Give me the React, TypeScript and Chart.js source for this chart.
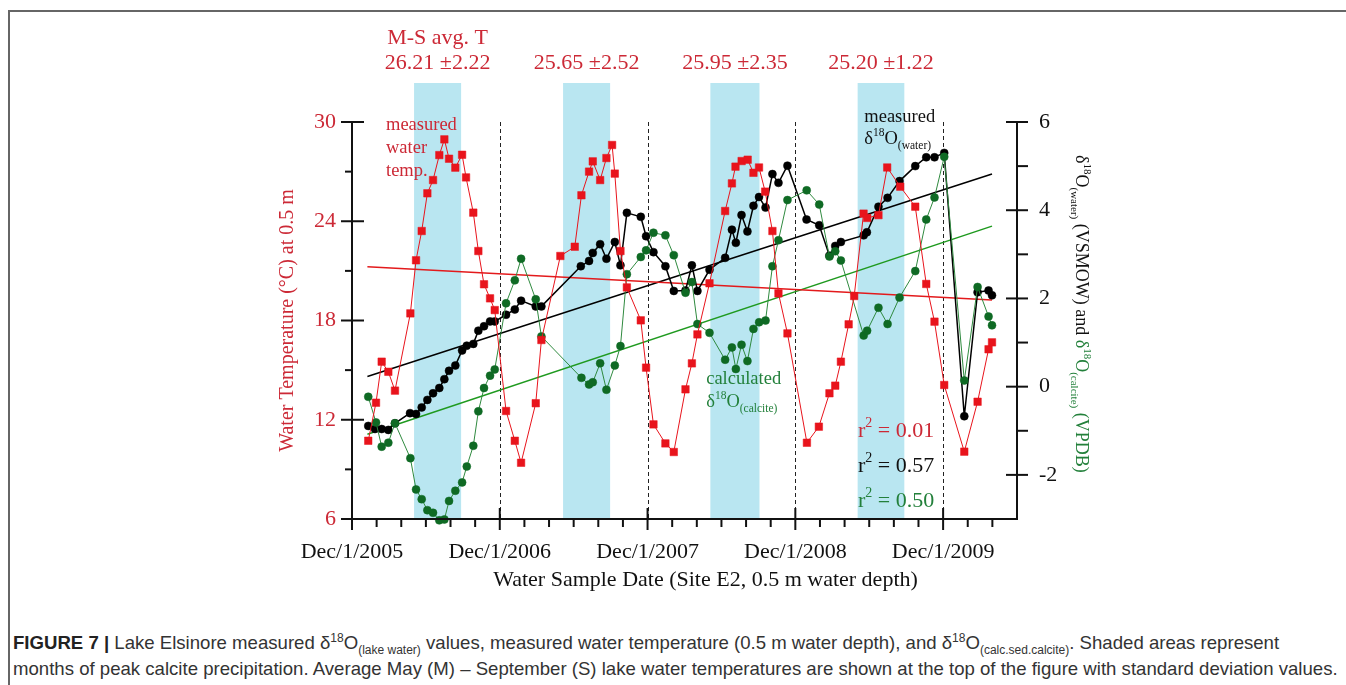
import React, { useEffect, useRef } from "react";
import { Chart, registerables } from "chart.js";

Chart.register(...registerables);

const SERIF = '"Liberation Serif", "Times New Roman", serif';
const RED_TEXT = "#cc2936";
const GREEN_TEXT = "#23803b";
const INK = "#111111";
const SHADE = "#b9e6f1";

// x values are months elapsed since Dec/1/2005
const tempMonths = [
  1.32, 1.95, 2.41, 2.95, 3.49, 4.74, 5.2, 5.66, 6.12, 6.58, 7.09, 7.5, 7.88, 8.39, 8.94, 9.26,
  9.85, 10.26, 10.72, 11.21, 11.59, 12.51, 13.22, 13.73, 14.92, 15.38, 16.92, 18.09, 18.63,
  19.25, 19.55, 20.15, 20.66, 21.12, 21.34, 21.8, 22.32, 23.45, 23.88, 24.48, 25.45, 26.13,
  27.08, 27.6, 28.05, 29.03, 30.3, 30.85, 31.14, 31.64, 32.13, 32.6, 33.05, 33.55, 34.14,
  34.63, 35.36, 36.94, 37.91, 38.77, 39.24, 39.7, 40.33, 40.78, 41.54, 41.84, 42.75, 43.46,
  44.52, 45.74, 46.63, 47.3, 48.09, 49.72, 50.8, 51.69, 51.97,
];
const tempValues = [
  10.73, 13.03, 15.51, 14.9, 13.76, 18.43, 21.64, 23.41, 25.69, 26.49, 28.0, 28.95, 27.78,
  27.24, 28.02, 26.65, 24.52, 22.2, 20.19, 19.34, 18.63, 12.53, 10.73, 9.4, 13.0, 16.82, 21.9,
  22.46, 25.57, 27.0, 27.62, 26.49, 27.82, 28.61, 26.88, 22.2, 20.0, 18.01, 15.15, 11.72,
  10.57, 10.05, 13.84, 15.41, 17.16, 20.25, 24.62, 26.29, 27.3, 27.64, 27.72, 26.93, 27.25,
  25.79, 23.41, 19.64, 17.22, 10.61, 11.58, 13.6, 14.06, 15.51, 17.77, 19.48, 24.46, 24.2,
  24.37, 27.25, 26.09, 24.88, 20.21, 17.93, 14.1, 10.07, 13.09, 16.26, 16.68,
];

const waterMonths = [
  1.32, 1.87, 2.41, 2.95, 3.49, 4.71, 5.2, 5.66, 6.12, 6.58, 7.09, 7.5, 7.88, 8.39, 8.94, 9.32,
  9.85, 10.26, 10.72, 11.21, 11.59, 12.51, 13.22, 13.73, 14.92, 15.38, 18.58, 19.25, 19.55,
  20.15, 20.66, 21.34, 21.8, 22.32, 23.45, 23.88, 24.48, 25.45, 26.13, 27.08, 27.6, 28.05,
  29.03, 30.3, 30.85, 31.17, 31.63, 32.11, 32.6, 33.05, 33.58, 34.14, 34.63, 35.36, 36.91,
  37.94, 38.77, 39.24, 39.7, 41.55, 41.81, 42.75, 43.49, 44.46, 45.74, 46.63, 47.3, 48.09,
  49.72, 50.8, 51.69, 51.97,
];
const waterValues = [
  -0.89, -0.96, -0.96, -0.98, -0.83, -0.6, -0.62, -0.47, -0.3, -0.15, -0.03, 0.17, 0.36, 0.48,
  0.82, 0.93, 0.97, 1.27, 1.37, 1.48, 1.48, 1.63, 1.75, 1.95, 1.82, 1.82, 2.73, 2.85, 3.03,
  3.23, 2.9, 3.28, 2.75, 3.94, 3.85, 3.41, 3.05, 2.73, 2.17, 2.18, 2.75, 2.17, 2.65, 2.92,
  3.56, 3.26, 3.89, 3.52, 4.1, 4.3, 4.06, 4.82, 4.62, 5.01, 3.79, 3.66, 2.97, 3.19, 3.28, 3.43,
  3.5, 4.08, 4.28, 4.66, 5.0, 5.2, 5.2, 5.3, -0.67, 2.14, 2.18, 2.07,
];

const calciteMonths = [
  1.32, 1.95, 2.41, 2.95, 3.49, 4.74, 5.2, 5.66, 6.12, 6.58, 7.09, 7.5, 7.88, 8.39, 8.94, 9.32,
  9.85, 10.26, 10.72, 11.21, 11.59, 12.51, 13.22, 13.73, 14.92, 15.38, 18.63, 19.25, 19.55,
  20.15, 20.66, 21.34, 21.8, 22.32, 23.45, 23.88, 24.48, 25.45, 26.13, 27.08, 27.6, 28.05,
  29.03, 30.3, 30.85, 31.17, 31.63, 32.11, 32.6, 33.06, 33.58, 34.14, 34.63, 35.36, 36.92,
  37.94, 38.77, 39.24, 39.7, 41.55, 41.83, 42.75, 43.49, 44.46, 45.74, 46.63, 47.3, 48.09,
  49.72, 50.8, 51.69, 51.97,
];
const calciteValues = [
  -0.23, -0.81, -1.36, -1.27, -0.83, -1.62, -2.33, -2.55, -2.8, -2.86, -3.03, -3.01, -2.59,
  -2.36, -2.17, -1.81, -1.34, -0.56, -0.03, 0.25, 0.39, 1.89, 2.41, 2.9, 1.98, 1.14, 0.2,
  0.05, 0.1, 0.53, -0.07, 0.48, 0.92, 2.55, 2.94, 3.09, 3.49, 3.43, 2.98, 2.13, 2.37, 1.42,
  1.22, 0.61, 0.89, 0.4, 0.95, 0.58, 1.31, 1.46, 1.5, 2.73, 3.32, 4.23, 4.45, 4.13, 2.95, 3.07,
  2.86, 1.16, 1.27, 1.79, 1.42, 2.02, 2.62, 3.79, 4.29, 5.21, 0.14, 2.26, 1.59, 1.39,
];

// Linear fits, end points over the sampled period
const trendMonths = [1.25, 51.97];
const tempTrend = [21.25, 19.24];
const waterTrend = [0.23, 4.82];
const calciteTrend = [-1.08, 3.64];

// Months of peak calcite precipitation (shaded)
const shadeStart = [5.04, 17.14, 29.1, 41.06];
const shadeEnd = [8.86, 20.96, 33.09, 44.85];
const msAvgLabels = ["26.21 ±2.22", "25.65 ±2.52", "25.95 ±2.35", "25.20 ±1.22"];

const xTickMonths = [0, 12, 24, 36, 48];
const xTickLabels = ["Dec/1/2005", "Dec/1/2006", "Dec/1/2007", "Dec/1/2008", "Dec/1/2009"];
const xMinorMonths = [2, 4, 6, 8, 10, 14, 16, 18, 20, 22, 26, 28, 30, 32, 34, 38, 40, 42, 44, 46, 50, 52];
const yearMonths = [12, 24, 36, 48];
const tempTicks = [6, 12, 18, 24, 30];
const tempMinorTicks = [9, 15, 21, 27];
const isoTicks = [-2, 0, 2, 4, 6];
const isoMinorTicks = [-1, 1, 3, 5];
const rSquaredLabels = ["0.01", "0.57", "0.50"];
const rSquaredColors = [RED_TEXT, INK, GREEN_TEXT];

const toPoints = (xs: number[], ys: number[]) => xs.map((x, i) => ({ x, y: ys[i] }));

type Seg = { text: string; size: number; dy?: number; color: string };

function drawRich(ctx: CanvasRenderingContext2D, segs: Seg[], x: number, y: number, angle = 0) {
  ctx.save();
  ctx.translate(x, y);
  ctx.rotate(angle);
  ctx.textAlign = "left";
  ctx.textBaseline = "middle";
  let pos = 0;
  for (const s of segs) {
    ctx.font = `${s.size}px ${SERIF}`;
    ctx.fillStyle = s.color;
    ctx.fillText(s.text, pos, s.dy ?? 0);
    pos += ctx.measureText(s.text).width;
  }
  ctx.restore();
}

function deltaO(sub: string, color: string, size: number, subSize: number): Seg[] {
  return [
    { text: "δ", size, color },
    { text: "18", size: subSize, dy: -6, color },
    { text: "O", size, color },
    { text: sub, size: subSize, dy: 7, color },
  ];
}

const decorations = {
  id: "decorations",
  beforeDatasetsDraw(chart: any) {
    const { ctx, chartArea: a, scales } = chart;
    const xs = scales.x;
    ctx.save();
    ctx.fillStyle = SHADE;
    shadeStart.forEach((s, i) => {
      const x1 = xs.getPixelForValue(s);
      const x2 = xs.getPixelForValue(shadeEnd[i]);
      ctx.fillRect(x1, a.top - 39, x2 - x1, a.bottom - a.top + 39);
    });
    ctx.strokeStyle = "#222";
    ctx.lineWidth = 1;
    ctx.setLineDash([4, 3]);
    yearMonths.forEach((m) => {
      const x = Math.round(xs.getPixelForValue(m)) + 0.5;
      ctx.beginPath();
      ctx.moveTo(x, a.top);
      ctx.lineTo(x, a.bottom);
      ctx.stroke();
    });
    ctx.restore();
  },
  afterDraw(chart: any) {
    const { ctx, chartArea: a, scales } = chart;
    const xs = scales.x;
    const yL = scales.y;
    const yR = scales.y2;
    const L = a.left, R = a.right, T = a.top, B = a.bottom;
    ctx.save();
    ctx.strokeStyle = INK;
    ctx.lineWidth = 2;
    ctx.setLineDash([]);
    const seg = (x1: number, y1: number, x2: number, y2: number) => {
      ctx.beginPath();
      ctx.moveTo(x1, y1);
      ctx.lineTo(x2, y2);
      ctx.stroke();
    };
    // axis lines
    seg(L, T, L, B + 11);
    seg(R, T, R, B);
    seg(L - 1, B, R + 1, B);
    // left axis ticks
    tempTicks.forEach((v) => { const y = yL.getPixelForValue(v); seg(L - 11, y, L + 12, y); });
    tempMinorTicks.forEach((v) => { const y = yL.getPixelForValue(v); seg(L - 7, y, L, y); });
    // right axis ticks
    isoTicks.forEach((v) => { const y = yR.getPixelForValue(v); seg(R - 11, y, R + 11, y); });
    isoMinorTicks.forEach((v) => { const y = yR.getPixelForValue(v); seg(R, y, R + 11, y); });
    // bottom axis ticks
    xTickMonths.forEach((m) => { const x = xs.getPixelForValue(m); seg(x, B - 11, x, B + 11); });
    xMinorMonths.forEach((m) => { const x = xs.getPixelForValue(m); seg(x, B, x, B + 8); });

    // axis titles
    ctx.textAlign = "center";
    ctx.textBaseline = "middle";
    ctx.save();
    ctx.translate(L - 64, (T + B) / 2);
    ctx.rotate(-Math.PI / 2);
    ctx.font = `20px ${SERIF}`;
    ctx.fillStyle = RED_TEXT;
    ctx.fillText("Water Temperature (°C) at 0.5 m", 0, 0);
    ctx.restore();

    ctx.font = `22px ${SERIF}`;
    ctx.fillStyle = INK;
    ctx.fillText("Water Sample Date (Site E2, 0.5 m water depth)", (L + R) / 2 + 21, B + 61);

    drawRich(
      ctx,
      [
        ...deltaO("(water)", INK, 18, 11),
        { text: " (VSMOW) and ", size: 18, color: INK },
        ...deltaO("(calcite)", GREEN_TEXT, 18, 11),
        { text: " (VPDB)", size: 18, color: GREEN_TEXT },
      ],
      R + 64,
      T + 33,
      Math.PI / 2
    );

    // May–September mean temperatures above each shaded band
    ctx.font = `22px ${SERIF}`;
    ctx.fillStyle = RED_TEXT;
    ctx.textAlign = "center";
    shadeStart.forEach((s, i) => {
      const cx = (xs.getPixelForValue(s) + xs.getPixelForValue(shadeEnd[i])) / 2;
      if (i === 0) ctx.fillText("M-S avg. T", cx, T - 84);
      ctx.fillText(msAvgLabels[i], cx, T - 59);
    });

    // series annotations
    ctx.textAlign = "left";
    ctx.font = `18.5px ${SERIF}`;
    ctx.fillStyle = RED_TEXT;
    const tx = xs.getPixelForValue(2.76);
    const ty = yL.getPixelForValue(29.8);
    ["measured", "water", "temp."].forEach((t, i) => ctx.fillText(t, tx, ty + i * 23));

    const wx = xs.getPixelForValue(41.6);
    const wy = yR.getPixelForValue(6.12);
    ctx.fillStyle = INK;
    ctx.fillText("measured", wx, wy);
    drawRich(ctx, deltaO("(water)", INK, 18.5, 11.5), wx, wy + 22);

    const cxl = xs.getPixelForValue(28.76);
    const cyl = yR.getPixelForValue(0.18);
    ctx.font = `18.5px ${SERIF}`;
    ctx.fillStyle = GREEN_TEXT;
    ctx.fillText("calculated", cxl, cyl);
    drawRich(ctx, deltaO("(calcite)", GREEN_TEXT, 18.5, 11.5), cxl, cyl + 23);

    const rx = xs.getPixelForValue(41.08);
    const ry = yR.getPixelForValue(-1.0);
    rSquaredLabels.forEach((v, i) => {
      drawRich(
        ctx,
        [
          { text: "r", size: 22, color: rSquaredColors[i] },
          { text: "2", size: 14, dy: -7, color: rSquaredColors[i] },
          { text: " = " + v, size: 22, color: rSquaredColors[i] },
        ],
        rx,
        ry + i * 35
      );
    });
    ctx.restore();
  },
};

export default function App() {
  const ref = useRef<HTMLCanvasElement>(null);

  useEffect(() => {
    document.body.style.margin = "0";
    document.body.style.overflow = "hidden";
    Chart.defaults.font.family = SERIF;
    const line = (
      label: string,
      xs: number[],
      ys: number[],
      axis: string,
      color: string,
      fill: string,
      width: number,
      radius: number,
      style: string
    ) => ({
      label,
      data: toPoints(xs, ys),
      yAxisID: axis,
      showLine: true,
      borderColor: color,
      borderWidth: width,
      pointRadius: radius,
      pointStyle: style,
      pointBackgroundColor: fill,
      pointBorderColor: fill,
      pointBorderWidth: 0.5,
      tension: 0,
      clip: false,
    });

    const chart = new Chart(ref.current as HTMLCanvasElement, {
      type: "scatter",
      data: {
        datasets: [
          line("Water temperature", tempMonths, tempValues, "y", "#e8141c", "#e8141c", 1, 5.3, "rect"),
          line("δ18O calcite", calciteMonths, calciteValues, "y2", "#2f8a3f", "#0f6a24", 1, 4, "circle"),
          line("δ18O water", waterMonths, waterValues, "y2", "#000000", "#000000", 1.5, 4, "circle"),
          line("Temperature fit", trendMonths, tempTrend, "y", "#e31a1c", "#e31a1c", 1.5, 0, "circle"),
          line("Water fit", trendMonths, waterTrend, "y2", "#000000", "#000000", 1.5, 0, "circle"),
          line("Calcite fit", trendMonths, calciteTrend, "y2", "#1f9a1f", "#1f9a1f", 1.5, 0, "circle"),
        ] as any,
      },
      options: {
        animation: false,
        responsive: true,
        maintainAspectRatio: false,
        events: [],
        layout: { padding: { top: 122 } },
        plugins: { legend: { display: false }, tooltip: { enabled: false } },
        scales: {
          x: {
            type: "linear",
            position: "bottom",
            min: 0,
            max: 54,
            grid: { display: false, drawTicks: false },
            border: { display: false },
            afterBuildTicks: (s: any) => {
              s.ticks = xTickMonths.map((value) => ({ value }));
            },
            afterFit: (s: any) => {
              s.height = 91;
            },
            ticks: {
              autoSkip: false,
              maxRotation: 0,
              minRotation: 0,
              padding: 20,
              color: INK,
              font: { size: 22, family: SERIF },
              callback: (_v: any, i: number) => xTickLabels[i],
            },
          },
          y: {
            type: "linear",
            position: "left",
            min: 6,
            max: 30,
            grid: { display: false, drawTicks: false },
            border: { display: false },
            afterBuildTicks: (s: any) => {
              s.ticks = tempTicks.map((value) => ({ value }));
            },
            afterFit: (s: any) => {
              s.width = 352;
            },
            ticks: {
              padding: 16,
              color: RED_TEXT,
              font: { size: 22, family: SERIF },
              callback: (v: any) => String(v),
            },
          },
          y2: {
            type: "linear",
            position: "right",
            min: -3,
            max: 6,
            grid: { display: false, drawTicks: false },
            border: { display: false },
            afterBuildTicks: (s: any) => {
              s.ticks = isoTicks.map((value) => ({ value }));
            },
            afterFit: (s: any) => {
              s.width = 329;
            },
            ticks: {
              padding: 22,
              color: INK,
              font: { size: 22, family: SERIF },
              callback: (v: any) => String(v),
            },
          },
        },
      } as any,
      plugins: [decorations],
    });
    return () => chart.destroy();
  }, []);

  const supStyle: React.CSSProperties = { fontSize: 12, position: "relative", top: -7, verticalAlign: "baseline" };
  const subStyle: React.CSSProperties = { fontSize: 12, position: "relative", top: 5, verticalAlign: "baseline" };

  return (
    <div style={{ position: "relative", width: 1346, height: 685, overflow: "hidden", background: "#fff" }}>
      <div style={{ position: "absolute", left: 8, top: 10, width: 1338, height: 2, background: "#666" }} />
      <div style={{ position: "absolute", left: 8, top: 10, width: 2, height: 675, background: "#666" }} />
      <div style={{ position: "absolute", left: 0, top: 0, width: 1346, height: 610 }}>
        <canvas ref={ref} />
      </div>
      <div
        style={{
          position: "absolute",
          left: 13,
          top: 631,
          font: '18.6px "Liberation Sans", Arial, sans-serif',
          color: "#333",
          lineHeight: "24px",
          whiteSpace: "nowrap",
        }}
      >
        <div>
          <b style={{ color: "#222" }}>FIGURE 7 |</b> Lake Elsinore measured δ<sup style={supStyle}>18</sup>O
          <sub style={subStyle}>(lake water)</sub> values, measured water temperature (0.5 m water depth), and δ
          <sup style={supStyle}>18</sup>O<sub style={subStyle}>(calc.sed.calcite)</sub>. Shaded areas represent
        </div>
        <div>
          months of peak calcite precipitation. Average May (M) – September (S) lake water temperatures are shown at
          the top of the figure with standard deviation values.
        </div>
      </div>
    </div>
  );
}
